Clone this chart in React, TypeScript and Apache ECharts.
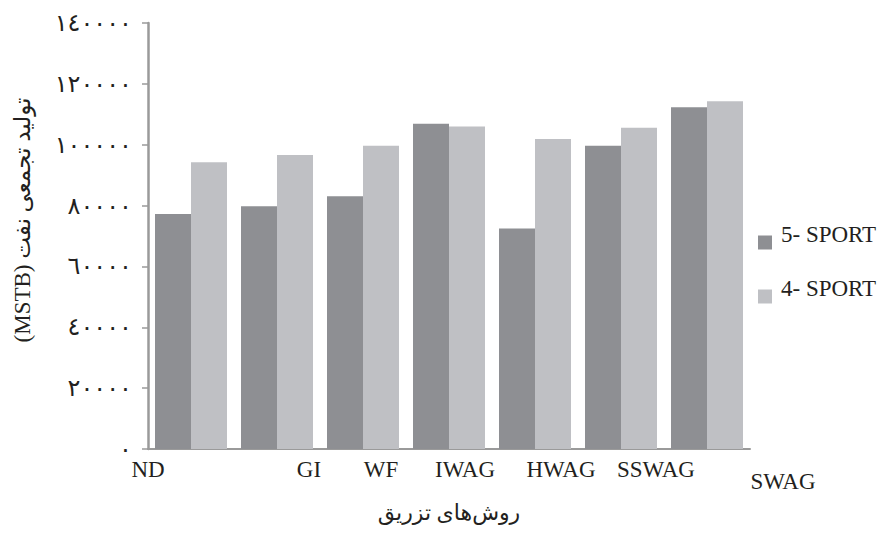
import React, { useEffect, useRef } from "react";
import * as echarts from "echarts";

const categories = ["ND", "GI", "WF", "IWAG", "HWAG", "SSWAG", "SWAG"];
const sport5 = [77200, 79800, 83100, 106900, 72500, 99700, 112300];
const sport4 = [94200, 96600, 99700, 106000, 101900, 105600, 114300];
const seriesNames = ["5- SPORT", "4- SPORT"];
const yTitle = "(MSTB) تولید تجمعی نفت";
const xTitle = "روش‌های تزریق";

// horizontal shift (px) and extra drop of each category label, as in the source figure
const labelShift = [-43, 32, 18, 16, 26, 35, 76];
const labelDrop = [0, 0, 0, 0, 0, 0, 12];

const toArabicDigits = (v: number) =>
  String(v).replace(/[0-9]/g, (d) => String.fromCharCode(0x0660 + Number(d)));

const FONT = "Liberation Serif, Times New Roman, DejaVu Sans, serif";

export default function App() {
  const ref = useRef<HTMLDivElement>(null);
  useEffect(() => {
    document.body.style.margin = "0";
    if (!ref.current) return;
    const chart = echarts.init(ref.current, undefined, { renderer: "svg" });
    chart.setOption({
      animation: false,
      backgroundColor: "#ffffff",
      textStyle: { fontFamily: FONT },
      grid: { left: 148, right: 136, top: 23, bottom: 84, containLabel: false },
      legend: {
        orient: "vertical",
        left: 753,
        top: 218,
        itemGap: 15,
        itemWidth: 14,
        itemHeight: 14,
        icon: "rect",
        formatter: (name: string) => `{t|${name}}`,
        textStyle: {
          fontFamily: FONT,
          fontSize: 23,
          color: "#231f20",
          rich: {
            t: {
              fontFamily: FONT,
              fontSize: 23,
              lineHeight: 24,
              color: "#231f20",
              padding: [0, 0, 16, 4],
            },
          },
        },
        data: seriesNames,
      },
      xAxis: {
        type: "category",
        data: categories.map((c, i) => {
          const s = labelShift[i];
          return {
            value: c,
            textStyle: {
              padding: [labelDrop[i], s < 0 ? -2 * s : 0, 0, s > 0 ? 2 * s : 0],
            },
          };
        }),
        axisLine: { lineStyle: { color: "#9a9a9a", width: 2 } },
        axisTick: { show: false },
        axisLabel: {
          interval: 0,
          hideOverlap: false,
          margin: 9,
          fontFamily: FONT,
          fontSize: 23,
          color: "#231f20",
        },
        name: xTitle,
        nameLocation: "middle",
        nameGap: 52,
        nameTextStyle: { fontFamily: FONT, fontSize: 22, color: "#231f20" },
      },
      yAxis: {
        type: "value",
        min: 0,
        max: 140000,
        interval: 20000,
        axisLine: { show: true, lineStyle: { color: "#9a9a9a", width: 2.5 } },
        axisTick: { show: true, length: 6, lineStyle: { color: "#9a9a9a", width: 1.5 } },
        splitLine: { show: false },
        axisLabel: {
          margin: 16,
          fontFamily: FONT,
          fontSize: 24,
          color: "#231f20",
          padding: [0, 0, 10, 0],
          formatter: (v: number) => toArabicDigits(v),
        },
      },
      graphic: [
        {
          type: "text",
          x: 22,
          y: 220,
          rotation: Math.PI / 2,
          style: {
            text: yTitle,
            fontFamily: FONT,
            fontSize: 23,
            fill: "#231f20",
            align: "center",
            verticalAlign: "middle",
          },
        },
      ],
      series: [
        {
          name: seriesNames[0],
          type: "bar",
          data: sport5,
          barWidth: 36,
          barGap: "0%",
          itemStyle: { color: "#8e8f93" },
        },
        {
          name: seriesNames[1],
          type: "bar",
          data: sport4,
          barWidth: 36,
          barGap: "0%",
          itemStyle: { color: "#bfc0c4" },
        },
      ],
    });
    return () => chart.dispose();
  }, []);
  return <div ref={ref} style={{ width: 886, height: 533 }} />;
}
